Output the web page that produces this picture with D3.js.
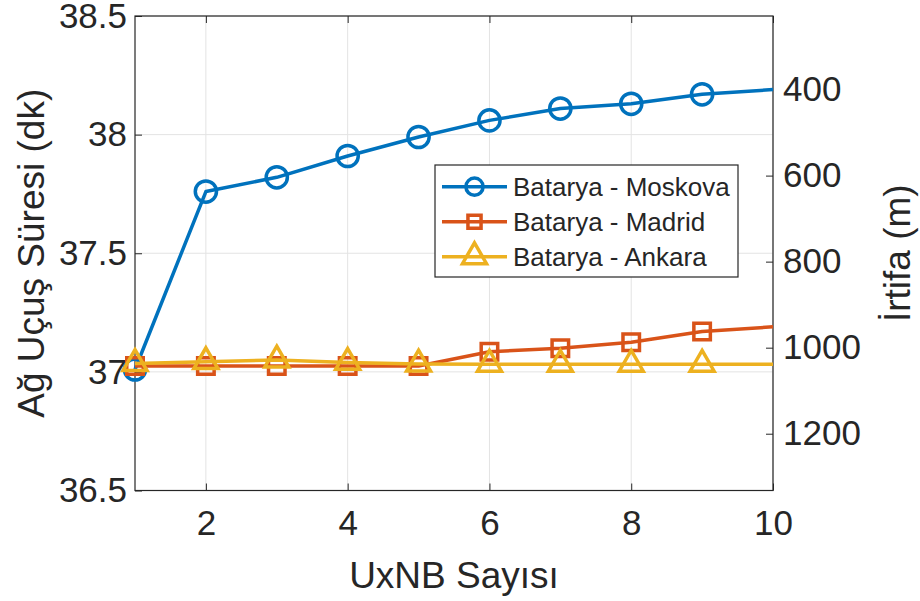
<!DOCTYPE html>
<html>
<head>
<meta charset="utf-8">
<script src="https://cdn.jsdelivr.net/npm/d3@7"></script>
<style>
  body { margin: 0; background: #fff; }
  text { font-family: "Liberation Sans", Arial, Helvetica, sans-serif; fill: #262626; }
</style>
</head>
<body>
<div id="chart"></div>
<script>
// values
var uxnb = [1, 2, 3, 4, 5, 6, 7, 8, 9, 10];
var moskova = [37.01, 37.76, 37.82, 37.91, 37.99, 38.06, 38.11, 38.13, 38.17, 38.19];
var madrid = [37.025, 37.025, 37.025, 37.025, 37.025, 37.085, 37.10, 37.125, 37.17, 37.19];
var ankara = [37.035, 37.043, 37.05, 37.04, 37.033, 37.032, 37.032, 37.032, 37.032, 37.032];

var seriesNames = ["Batarya - Moskova", "Batarya - Madrid", "Batarya - Ankara"];
var seriesColors = ["#0072BD", "#D95319", "#EDB120"];

var xTicks = [2, 4, 6, 8, 10];
var leftTicks = [36.5, 37, 37.5, 38, 38.5];
var rightTicks = [400, 600, 800, 1000, 1200];

var margin = {top: 16, right: 147, bottom: 110.5, left: 135},
    width = 920 - margin.left - margin.right,
    height = 601 - margin.top - margin.bottom;

var x = d3.scaleLinear().domain([1, 10]).range([0, width]);
var y = d3.scaleLinear().domain([36.5, 38.5]).range([height, 0]);
// right axis is reversed
var y2 = d3.scaleLinear().domain([229, 1332]).range([0, height]);

var svg = d3.select("#chart").append("svg")
    .attr("width", 920)
    .attr("height", 601)
    .style("background", "#fff");

var g = svg.append("g")
    .attr("transform", "translate(" + margin.left + "," + margin.top + ")");

// grid
g.append("g").selectAll("line").data(xTicks).enter().append("line")
    .attr("x1", function(d) { return x(d); })
    .attr("x2", function(d) { return x(d); })
    .attr("y1", 0).attr("y2", height)
    .style("stroke", "#e3e3e3").style("stroke-width", 1);

g.append("g").selectAll("line").data(leftTicks).enter().append("line")
    .attr("x1", 0).attr("x2", width)
    .attr("y1", function(d) { return y(d); })
    .attr("y2", function(d) { return y(d); })
    .style("stroke", "#e3e3e3").style("stroke-width", 1);

// axes
function styleAxis(sel, size) {
  sel.select(".domain").remove();
  sel.selectAll(".tick line").style("stroke", "#262626").style("stroke-width", 1);
  sel.selectAll(".tick text").style("font-size", size + "px").style("fill", "#262626");
}

var xAxis = g.append("g")
    .attr("transform", "translate(0," + height + ")")
    .call(d3.axisBottom(x).tickValues(xTicks).tickSize(-7).tickPadding(19.5));
styleAxis(xAxis, 35);

var xTop = g.append("g")
    .call(d3.axisTop(x).tickValues(xTicks).tickSize(-7).tickFormat(""));
styleAxis(xTop, 35);

var yAxis = g.append("g")
    .call(d3.axisLeft(y).tickValues(leftTicks).tickSize(-7).tickPadding(8).tickFormat(d3.format("")));
styleAxis(yAxis, 35);

var yRight = g.append("g")
    .attr("transform", "translate(" + width + ",0)")
    .call(d3.axisRight(y2).tickValues(rightTicks).tickSize(-7).tickPadding(10).tickFormat(d3.format("d")));
styleAxis(yRight, 35);

// box
g.append("rect")
    .attr("x", 0).attr("y", 0)
    .attr("width", width).attr("height", height)
    .style("fill", "none").style("stroke", "#262626").style("stroke-width", 1.2);

// lines
var seriesData = [moskova, madrid, ankara].map(function(vals) {
  return uxnb.map(function(d, i) { return {x: d, v: vals[i]}; });
});

var line = d3.line()
    .x(function(d) { return x(d.x); })
    .y(function(d) { return y(d.v); });

var symbols = [
  d3.symbol().type(d3.symbolCircle).size(353),
  d3.symbol().type(d3.symbolSquare).size(272),
  d3.symbol().type(d3.symbolTriangle).size(250)
];
var legendSymbols = [
  d3.symbol().type(d3.symbolCircle).size(232),
  d3.symbol().type(d3.symbolSquare).size(172),
  d3.symbol().type(d3.symbolTriangle).size(250)
];

seriesData.forEach(function(data, k) {
  g.append("path")
      .datum(data)
      .attr("d", line)
      .style("fill", "none")
      .style("stroke", seriesColors[k])
      .style("stroke-width", 3.5)
      .style("stroke-linejoin", "round");

  // last point sits on the axis edge, no marker there
  g.append("g").selectAll("path")
      .data(data.filter(function(d) { return d.x < x.domain()[1]; }))
      .enter().append("path")
      .attr("transform", function(d) { return "translate(" + x(d.x) + "," + y(d.v) + ")"; })
      .attr("d", symbols[k])
      .style("fill", "none")
      .style("stroke", seriesColors[k])
      .style("stroke-width", 3.5)
      .style("stroke-linejoin", "miter");
});

// axis labels
svg.append("text")
    .attr("x", margin.left + width / 2)
    .attr("y", 588)
    .attr("text-anchor", "middle")
    .style("font-size", "37px")
    .text("UxNB Sayısı");

svg.append("text")
    .attr("transform", "translate(44," + (margin.top + height / 2) + ") rotate(-90)")
    .attr("text-anchor", "middle")
    .style("font-size", "37px")
    .text("Ağ Uçuş Süresi (dk)");

svg.append("text")
    .attr("transform", "translate(910," + (margin.top + height / 2) + ") rotate(-90)")
    .attr("text-anchor", "middle")
    .style("font-size", "37px")
    .text("İrtifa (m)");

// legend
var legend = svg.append("g").attr("transform", "translate(435,165)");
legend.append("rect")
    .attr("width", 303).attr("height", 112)
    .style("fill", "#fff").style("stroke", "#262626").style("stroke-width", 1.2);

seriesNames.forEach(function(name, k) {
  var ly = 21.7 + k * 35;
  legend.append("line")
      .attr("x1", 7).attr("x2", 72)
      .attr("y1", ly).attr("y2", ly)
      .style("stroke", seriesColors[k]).style("stroke-width", 3.5);
  legend.append("path")
      .attr("transform", "translate(39.5," + ly + ")")
      .attr("d", legendSymbols[k])
      .style("fill", "none")
      .style("stroke", seriesColors[k])
      .style("stroke-width", 3.5);
  legend.append("text")
      .attr("x", 78).attr("y", ly)
      .attr("dy", "0.35em")
      .style("font-size", "26px")
      .text(name);
});
</script>
</body>
</html>
